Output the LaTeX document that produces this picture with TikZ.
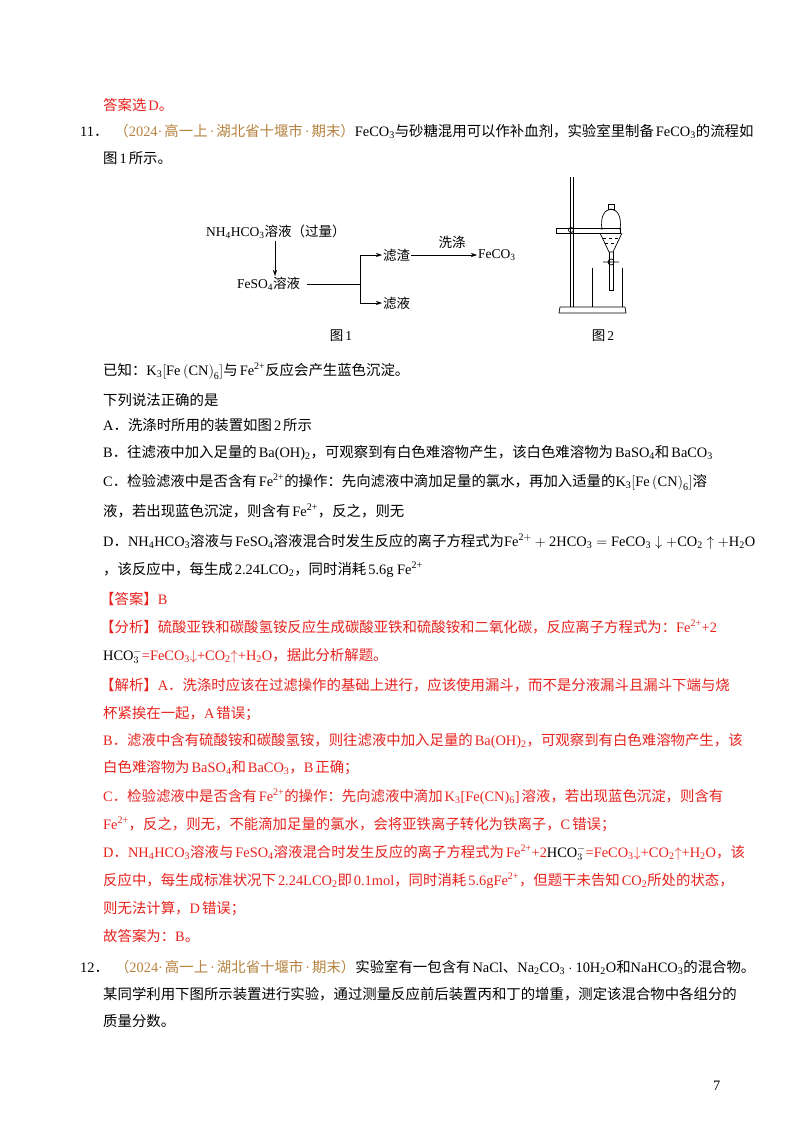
\documentclass[tikz,border=0pt]{standalone}
\usepackage{fontspec}
\setmainfont{Liberation Serif}
\newfontfamily\cjkf{Noto Sans CJK SC}
\usetikzlibrary{arrows.meta}
\XeTeXinterchartokenstate=1
\newXeTeXintercharclass\cjkcls
\newXeTeXintercharclass\cjkp
\newcount\cc
\cc="4E00 \loop\XeTeXcharclass\cc=\cjkcls \advance\cc by 1 \ifnum\cc<"A000 \repeat
\cc="3000 \loop\XeTeXcharclass\cc=\cjkp \advance\cc by 1 \ifnum\cc<"3040 \repeat
\cc="FF00 \loop\XeTeXcharclass\cc=\cjkp \advance\cc by 1 \ifnum\cc<"FFF0 \repeat
\XeTeXinterchartoks 0 \cjkcls {\hskip2pt\cjkf}
\XeTeXinterchartoks 4095 \cjkcls {\cjkf}
\XeTeXinterchartoks \cjkp \cjkcls {\cjkf}
\XeTeXinterchartoks \cjkcls 0 {\rmfamily\hskip2pt}
\XeTeXinterchartoks \cjkcls 4095 {\rmfamily}
\XeTeXinterchartoks 0 \cjkp {\cjkf}
\XeTeXinterchartoks 4095 \cjkp {\cjkf}
\XeTeXinterchartoks \cjkcls \cjkp {\cjkf}
\XeTeXinterchartoks \cjkp 0 {\rmfamily}
\XeTeXinterchartoks \cjkp 4095 {\rmfamily}
\definecolor{ans}{HTML}{E8231E}
\definecolor{src}{HTML}{B5823F}
\newcommand{\sub}[1]{\textsubscript{#1}}
\newcommand{\sps}[1]{\textsuperscript{#1}}
\newcommand{\Kfe}{$\mathrm{K_3\!\left[Fe\left(CN\right)_6\right]}$}
\begin{document}
\begin{tikzpicture}[x=1pt,y=-1pt,
  ln/.style={anchor=base west,inner sep=0pt,font=\fontsize{14.4}{16}\selectfont},
  red/.style={ln,text=ans},
  fg/.style={inner sep=1pt,font=\fontsize{13.5}{15}\selectfont},
  ar/.style={-{Stealth[length=6pt,width=4pt]},line width=0.6pt}]
\useasboundingbox[fill=white] (0,0) rectangle (800,1132);
\node[red] (t0) at (103,110) {答案选D。};
\node[ln] (t1) at (80,136) {11．\hspace{6pt}{\color{src}（2024·高一上·湖北省十堰市·期末）}FeCO\sub{3}与砂糖混用可以作补血剂，实验室里制备FeCO\sub{3}的流程如};
\node[ln] (t2) at (103,163) {图1所示。};
% Figure 1
\node[fg,anchor=west] (n1) at (205,232) {NH\sub{4}HCO\sub{3}溶液（过量）};
\node[fg,anchor=west] (n2) at (236,284) {FeSO\sub{4}溶液};
\node[fg,anchor=west] (n3) at (382,255) {滤渣};
\node[fg,anchor=west] (n4) at (382,303) {滤液};
\node[fg,anchor=west] (n5) at (477,255) {FeCO\sub{3}};
\node[fg] (w) at (452,242) {洗涤};
\node[fg] (f1) at (341,336) {图1};
\node[fg] (f2) at (603,336) {图2};
\coordinate (j) at (360,284);
\draw[ar] (275,241) -- (n2.north -| 275,0);
\draw[line width=0.6pt] ([xshift=6pt]n2.east) -- (j);
\draw[ar] (j) -- (360,255) -- (n3.west);
\draw[ar] (j) -- (360,303) -- (n4.west);
\draw[ar] (n3.east) -- (n5.west);
% Figure 2
\begin{scope}[line width=0.7pt]
\draw (570,177) -- (570,307) (573,177) -- (573,307);
\draw (560,307) -- (625,307) -- (626,313) -- (559,313) -- cycle;
\draw (556,228) rectangle (620,233);
\draw (571,230) circle (2.5);
\draw (602,230) .. controls (600,215) and (605,210) .. (611,209) .. controls (617,210) and (622,215) .. (620,230);
\draw (608,209) rectangle (614,204);
\draw (600,233) -- (609,252) -- (613,252) -- (622,233);
\draw[dashed] (603,238) -- (619,238) (605,243) -- (617,243);
\draw (609,252) -- (609,290) (613,252) -- (613,290) -- (609,290);
\draw (603,262) -- (619,262) (611,262) circle (3);
\draw (592,268) -- (592,307) (622,268) -- (622,307);
\end{scope}
% text
\node[ln] (t3) at (103,375) {已知：\Kfe 与Fe\sps{2+}反应会产生蓝色沉淀。};
\node[ln] (t4) at (103,405) {下列说法正确的是};
\node[ln] (t5) at (103,430) {A．洗涤时所用的装置如图2所示};
\node[ln] (t6) at (103,457) {B．往滤液中加入足量的Ba(OH)\sub{2}，可观察到有白色难溶物产生，该白色难溶物为BaSO\sub{4}和BaCO\sub{3}};
\node[ln] (t7) at (103,486) {C．检验滤液中是否含有Fe\sps{2+}的操作：先向滤液中滴加足量的氯水，再加入适量的\Kfe 溶};
\node[ln] (t8) at (103,516) {液，若出现蓝色沉淀，则含有Fe\sps{2+}，反之，则无};
\node[ln] (t9) at (103,546) {D．NH\sub{4}HCO\sub{3}溶液与FeSO\sub{4}溶液混合时发生反应的离子方程式为$\mathrm{Fe^{2+}+2HCO_3=FeCO_3\downarrow+CO_2\uparrow+H_2O}$};
\node[ln] (t10) at (103,574) {，该反应中，每生成2.24LCO\sub{2}，同时消耗5.6g Fe\sps{2+}};
\node[red] (t11) at (100,604) {【答案】B};
\node[red] (t12) at (100,632) {【分析】硫酸亚铁和碳酸氢铵反应生成碳酸亚铁和硫酸铵和二氧化碳，反应离子方程式为：Fe\sps{2+}+2};
\node[red] (t13) at (103,660) {{\color{black}HCO$^{-}_{3}$}=FeCO\sub{3}$\downarrow$+CO\sub{2}$\uparrow$+H\sub{2}O，据此分析解题。};
\node[red] (t14) at (100,690) {【解析】A．洗涤时应该在过滤操作的基础上进行，应该使用漏斗，而不是分液漏斗且漏斗下端与烧};
\node[red] (t15) at (103,718) {杯紧挨在一起，A错误；};
\node[red] (t16) at (103,745) {B．滤液中含有硫酸铵和碳酸氢铵，则往滤液中加入足量的Ba(OH)\sub{2}，可观察到有白色难溶物产生，该};
\node[red] (t17) at (103,772) {白色难溶物为BaSO\sub{4}和BaCO\sub{3}，B正确；};
\node[red] (t18) at (103,801) {C．检验滤液中是否含有Fe\sps{2+}的操作：先向滤液中滴加K\sub{3}[Fe(CN)\sub{6}]溶液，若出现蓝色沉淀，则含有};
\node[red] (t19) at (103,829) {Fe\sps{2+}，反之，则无，不能滴加足量的氯水，会将亚铁离子转化为铁离子，C错误；};
\node[red] (t20) at (103,857) {D．NH\sub{4}HCO\sub{3}溶液与FeSO\sub{4}溶液混合时发生反应的离子方程式为Fe\sps{2+}+2{\color{black}HCO$^{-}_{3}$}=FeCO\sub{3}$\downarrow$+CO\sub{2}$\uparrow$+H\sub{2}O，该};
\node[red] (t21) at (103,885) {反应中，每生成标准状况下2.24LCO\sub{2}即0.1mol，同时消耗5.6gFe\sps{2+}，但题干未告知CO\sub{2}所处的状态，};
\node[red] (t22) at (103,913) {则无法计算，D错误；};
\node[red] (t23) at (103,941) {故答案为：B。};
\node[ln] (t24) at (80,972) {12．\hspace{6pt}{\color{src}（2024·高一上·湖北省十堰市·期末）}实验室有一包含有NaCl、$\mathrm{Na_2CO_3\cdot10H_2O}$和$\mathrm{NaHCO_3}$的混合物。};
\node[ln] (t25) at (103,999) {某同学利用下图所示装置进行实验，通过测量反应前后装置丙和丁的增重，测定该混合物中各组分的};
\node[ln] (t26) at (103,1026) {质量分数。};
\node[ln] (pg) at (713,1090) {7};
\end{tikzpicture}
\end{document}
